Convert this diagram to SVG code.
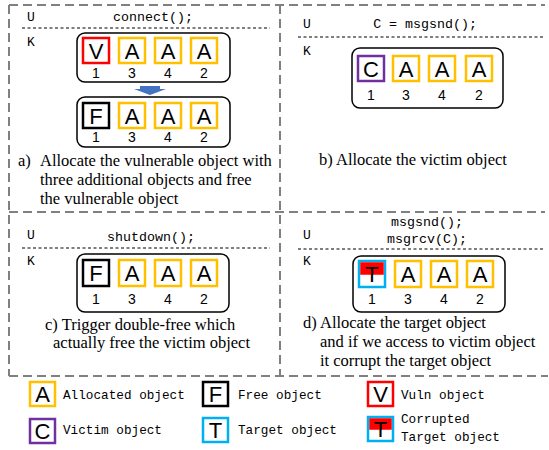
<svg xmlns="http://www.w3.org/2000/svg" width="549" height="450" viewBox="0 0 549 450">
  <style>
    .frame { fill: none; stroke: #808080; stroke-width: 2; stroke-dasharray: 9 5; }
    .sep { fill: none; stroke: #000; stroke-width: 1.2; stroke-dasharray: 3 2.5; }
    .code { font-family: "Liberation Mono", "DejaVu Sans Mono", monospace; font-size: 13.3px; fill: #000; }
    .uk { font-family: "Liberation Mono", "DejaVu Sans Mono", monospace; font-size: 13px; fill: #000; }
    .legend { font-family: "Liberation Mono", "DejaVu Sans Mono", monospace; font-size: 12.7px; fill: #000; }
    .group { fill: #fff; stroke: #000; stroke-width: 1.5; }
    .obj { fill: #fff; stroke-width: 2.5; }
    .alloc { stroke: #FFC000; }
    .vuln { stroke: #FF0000; }
    .free { stroke: #000; }
    .victim { stroke: #7030A0; }
    .target { stroke: #00B0F0; }
    .letter { font-family: "Liberation Sans", Arial, sans-serif; font-size: 22px; text-anchor: middle; fill: #000; }
    .num { font-family: "Liberation Sans", Arial, sans-serif; font-size: 14px; text-anchor: middle; fill: #000; }
    .cap { font-family: "Liberation Serif", "Times New Roman", serif; font-size: 16.5px; fill: #000; }
  </style>

  <!-- panel frames -->
  <g id="frames">
    <path class="frame" d="M9,5 H545 M9,5 V376 M9,376 H548 M280,5 V376 M9,212 H545"/>
  </g>

  <!-- (a) allocate vulnerable object, then free it -->
  <g id="panel-a">
    <text class="uk" x="27" y="21">U</text>
    <text class="uk" x="27" y="46">K</text>
    <text class="code" x="153" y="21" text-anchor="middle">connect();</text>
    <line class="sep" x1="22" y1="28" x2="270" y2="28"/>
    <g id="a-before">
      <rect class="group" x="77" y="33" width="153" height="49" rx="8"/>
      <rect class="obj vuln" x="83" y="38" width="26" height="25"/>
      <rect class="obj alloc" x="119" y="38" width="26" height="25"/>
      <rect class="obj alloc" x="155" y="38" width="26" height="25"/>
      <rect class="obj alloc" x="191" y="38" width="26" height="25"/>
      <text class="letter" x="96" y="58.5">V</text>
      <text class="letter" x="132" y="58.5">A</text>
      <text class="letter" x="168" y="58.5">A</text>
      <text class="letter" x="204" y="58.5">A</text>
      <text class="num" x="96" y="78">1</text>
      <text class="num" x="132" y="78">3</text>
      <text class="num" x="168" y="78">4</text>
      <text class="num" x="204" y="78">2</text>
    </g>
    <polygon id="a-arrow" fill="#4472C4" points="140,86 160,86 160,89 166,89 150,95 134,89 140,89"/>
    <g id="a-after">
      <rect class="group" x="77" y="97" width="153" height="50" rx="8"/>
      <rect class="obj free" x="83" y="103" width="26" height="25"/>
      <rect class="obj alloc" x="119" y="103" width="26" height="25"/>
      <rect class="obj alloc" x="155" y="103" width="26" height="25"/>
      <rect class="obj alloc" x="191" y="103" width="26" height="25"/>
      <text class="letter" x="96" y="123.5">F</text>
      <text class="letter" x="132" y="123.5">A</text>
      <text class="letter" x="168" y="123.5">A</text>
      <text class="letter" x="204" y="123.5">A</text>
      <text class="num" x="96" y="142">1</text>
      <text class="num" x="132" y="142">3</text>
      <text class="num" x="168" y="142">4</text>
      <text class="num" x="204" y="142">2</text>
    </g>
    <text class="cap" x="18" y="166">a)</text>
    <text class="cap" x="40" y="166">Allocate the vulnerable object with</text>
    <text class="cap" x="40" y="185">three additional objects and free</text>
    <text class="cap" x="40" y="204">the vulnerable object</text>
  </g>

  <!-- (b) allocate victim object -->
  <g id="panel-b">
    <text class="uk" x="303" y="28">U</text>
    <text class="uk" x="303" y="55">K</text>
    <text class="code" x="425" y="28" text-anchor="middle">C = msgsnd();</text>
    <line class="sep" x1="298" y1="37" x2="544" y2="37"/>
    <rect class="group" x="352" y="48" width="151" height="60" rx="8"/>
    <rect class="obj victim" x="358" y="56" width="26" height="25"/>
    <rect class="obj alloc" x="393" y="56" width="26" height="25"/>
    <rect class="obj alloc" x="429" y="56" width="26" height="25"/>
    <rect class="obj alloc" x="466" y="56" width="26" height="25"/>
    <text class="letter" x="371" y="76.5">C</text>
    <text class="letter" x="406" y="76.5">A</text>
    <text class="letter" x="442" y="76.5">A</text>
    <text class="letter" x="479" y="76.5">A</text>
    <text class="num" x="371" y="100">1</text>
    <text class="num" x="406" y="100">3</text>
    <text class="num" x="442" y="100">4</text>
    <text class="num" x="479" y="100">2</text>
    <text class="cap" x="319" y="165">b) Allocate the victim object</text>
  </g>

  <!-- (c) double free releases the victim -->
  <g id="panel-c">
    <text class="uk" x="27" y="239">U</text>
    <text class="uk" x="27" y="265">K</text>
    <text class="code" x="151" y="241" text-anchor="middle">shutdown();</text>
    <line class="sep" x1="22" y1="248" x2="270" y2="248"/>
    <rect class="group" x="77" y="254" width="152" height="58" rx="8"/>
    <rect class="obj free" x="83" y="260" width="26" height="26"/>
    <rect class="obj alloc" x="119" y="260" width="26" height="26"/>
    <rect class="obj alloc" x="155" y="260" width="26" height="26"/>
    <rect class="obj alloc" x="191" y="260" width="26" height="26"/>
    <text class="letter" x="96" y="281">F</text>
    <text class="letter" x="132" y="281">A</text>
    <text class="letter" x="168" y="281">A</text>
    <text class="letter" x="204" y="281">A</text>
    <text class="num" x="96" y="304">1</text>
    <text class="num" x="132" y="304">3</text>
    <text class="num" x="168" y="304">4</text>
    <text class="num" x="204" y="304">2</text>
    <text class="cap" x="45" y="330">c) Trigger double-free which</text>
    <text class="cap" x="53" y="348">actually free the victim object</text>
  </g>

  <!-- (d) target object lands in the freed slot -->
  <g id="panel-d">
    <text class="uk" x="303" y="239">U</text>
    <text class="uk" x="303" y="265">K</text>
    <text class="code" x="427" y="226" text-anchor="middle">msgsnd();</text>
    <text class="code" x="427" y="243" text-anchor="middle">msgrcv(C);</text>
    <line class="sep" x1="298" y1="249" x2="544" y2="249"/>
    <rect class="group" x="353" y="256" width="152" height="56" rx="8"/>
    <rect class="obj target" x="359" y="261" width="26" height="26"/>
    <rect x="360.25" y="262.25" width="23.5" height="12.5" fill="#FF0000"/>
    <rect class="obj alloc" x="395" y="261" width="26" height="26"/>
    <rect class="obj alloc" x="431" y="261" width="26" height="26"/>
    <rect class="obj alloc" x="467" y="261" width="26" height="26"/>
    <text class="letter" x="372" y="282">T</text>
    <text class="letter" x="408" y="282">A</text>
    <text class="letter" x="444" y="282">A</text>
    <text class="letter" x="480" y="282">A</text>
    <text class="num" x="372" y="304">1</text>
    <text class="num" x="408" y="304">3</text>
    <text class="num" x="444" y="304">4</text>
    <text class="num" x="480" y="304">2</text>
    <text class="cap" x="303" y="328">d) Allocate the target object</text>
    <text class="cap" x="320" y="347">and if we access to victim object</text>
    <text class="cap" x="320" y="366">it corrupt the target object</text>
  </g>

  <!-- legend -->
  <g id="legend">
    <rect class="obj alloc" x="30" y="382" width="25" height="24"/>
    <text class="letter" x="42.5" y="402">A</text>
    <text class="legend" x="63" y="399">Allocated object</text>

    <rect class="obj free" x="203" y="382" width="25" height="24"/>
    <text class="letter" x="215.5" y="402">F</text>
    <text class="legend" x="238" y="399">Free object</text>

    <rect class="obj vuln" x="368" y="382" width="25" height="24"/>
    <text class="letter" x="380.5" y="402">V</text>
    <text class="legend" x="401" y="399">Vuln object</text>

    <rect class="obj victim" x="30" y="419" width="25" height="24"/>
    <text class="letter" x="42.5" y="439">C</text>
    <text class="legend" x="63" y="434">Victim object</text>

    <rect class="obj target" x="203" y="418" width="25" height="24"/>
    <text class="letter" x="215.5" y="438">T</text>
    <text class="legend" x="238" y="434">Target object</text>

    <rect class="obj target" x="368" y="417" width="25" height="24"/>
    <rect x="369.25" y="418.25" width="22.5" height="11.5" fill="#FF0000"/>
    <text class="letter" x="380.5" y="437">T</text>
    <text class="legend" x="401" y="423">Corrupted</text>
    <text class="legend" x="401" y="441">Target object</text>
  </g>
</svg>
